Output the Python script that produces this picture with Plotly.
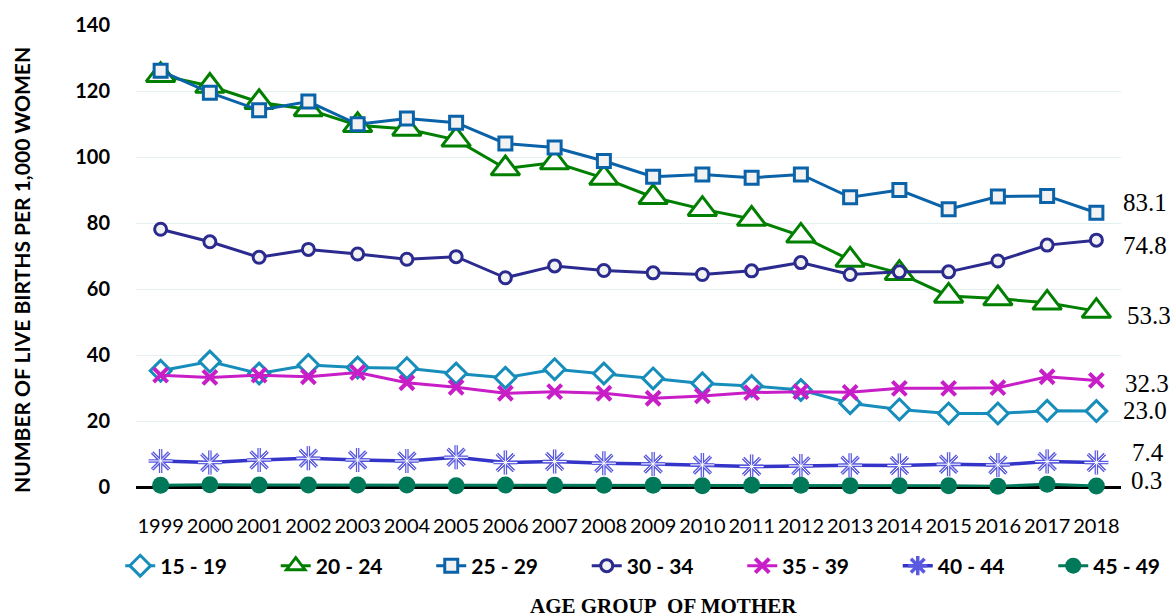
import plotly.graph_objects as go

years = [str(y) for y in range(1999, 2019)]

age_groups = ["15 - 19", "20 - 24", "25 - 29", "30 - 34", "35 - 39", "40 - 44", "45 - 49"]

rate_15_19 = [35.2, 38.0, 34.4, 37.0, 36.2, 36.0, 34.4, 33.1, 35.7, 34.4,
              32.9, 31.4, 30.6, 29.4, 25.4, 23.5, 22.3, 22.3, 23.1, 23.0]
rate_20_24 = [124.8, 121.5, 116.6, 114.4, 109.6, 108.5, 105.2, 96.5, 98.3, 93.6,
              87.8, 84.2, 81.2, 76.1, 68.8, 64.8, 57.9, 57.1, 55.8, 53.3]
rate_25_29 = [126.1, 119.5, 114.2, 116.8, 109.9, 111.7, 110.4, 104.1, 102.9, 98.8,
              94.0, 94.7, 93.7, 94.7, 87.8, 90.0, 84.2, 88.0, 88.2, 83.1]
rate_30_34 = [78.1, 74.3, 69.6, 72.0, 70.6, 69.0, 69.8, 63.4, 67.0, 65.6,
              64.9, 64.4, 65.5, 68.0, 64.4, 65.2, 65.2, 68.5, 73.3, 74.8]
rate_35_39 = [33.9, 33.2, 33.9, 33.4, 34.7, 31.6, 30.2, 28.4, 28.9, 28.4,
              26.9, 27.6, 28.6, 28.9, 28.7, 29.9, 29.9, 30.1, 33.4, 32.3]
rate_40_44 = [7.9, 7.4, 8.2, 8.7, 8.2, 7.9, 9.0, 7.4, 7.7, 7.2,
              7.0, 6.7, 6.2, 6.4, 6.6, 6.5, 6.9, 6.7, 7.7, 7.4]
rate_45_49 = [0.5, 0.7, 0.6, 0.6, 0.6, 0.6, 0.4, 0.6, 0.5, 0.5,
              0.5, 0.4, 0.5, 0.5, 0.4, 0.4, 0.4, 0.2, 0.8, 0.3]

series = [rate_15_19, rate_20_24, rate_25_29, rate_30_34, rate_35_39, rate_40_44, rate_45_49]

colors = ["#178DBB", "#007F00", "#0A62A8", "#2B2B8F", "#C81EC8", "#3434C8", "#00795A"]
styles = [
    dict(symbol="diamond", size=16, fill="#FFFFFF", lw=3),
    dict(symbol="triangle-up", size=25, fill="#FFFFFF", lw=3),
    dict(symbol="square", size=13, fill="#F2F2F2", lw=3),
    dict(symbol="circle", size=12, fill="#F2F2F2", lw=3),
    dict(symbol="x-thin", size=14, fill="#C81EC8", lw=4),
    dict(symbol="asterisk", size=20, fill="#5A5AE0", lw=3.5),
    dict(symbol="circle", size=17, fill="#00795A", lw=0),
]
label_shift = [(25, 1), (29, -4), (25, 10), (25, -5), (27, -3), (34, 10), (33, 6)]

fig = go.Figure()
for name, vals, col, st in zip(age_groups, series, colors, styles):
    if st["symbol"] in ("x-thin", "asterisk"):
        marker = dict(symbol=st["symbol"], size=st["size"],
                      line=dict(color=st["fill"], width=st["lw"]))
    else:
        marker = dict(symbol=st["symbol"], size=st["size"], color=st["fill"],
                      line=dict(color=col, width=st["lw"]))
    fig.add_trace(go.Scatter(x=years, y=vals, name=name, mode="lines+markers",
                             line=dict(color=col, width=3.5 if name == "40 - 44" else 3),
                             marker=marker, cliponaxis=False))
    if st["symbol"] == "asterisk":
        fig.add_trace(go.Scatter(x=years, y=vals, mode="markers", showlegend=False,
                                 hoverinfo="skip", cliponaxis=False,
                                 marker=dict(symbol="asterisk", size=st["size"],
                                             line=dict(color="#FFFFFF", width=1))))

annotations = []
last_idx = len(years) - 1
for vals, (xs, ys) in zip(series, label_shift):
    annotations.append(dict(x=last_idx, y=vals[-1], xref="x", yref="y",
                            text=f"{vals[-1]:.1f}", showarrow=False,
                            xanchor="left", yanchor="middle", xshift=xs, yshift=ys,
                            font=dict(family="Liberation Serif", size=25, color="black")))

annotations.append(dict(x=-0.1157, y=0.4697, xref="paper", yref="paper",
                        text="NUMBER OF LIVE BIRTHS PER 1,000 WOMEN", textangle=-90,
                        showarrow=False, xanchor="center", yanchor="middle",
                        font=dict(family="Lato", size=21, color="black", weight="bold")))
annotations.append(dict(x=0.5353, y=-0.227, xref="paper", yref="paper",
                        text="AGE GROUP&nbsp; OF MOTHER", showarrow=False,
                        xanchor="center", yanchor="top",
                        font=dict(family="Liberation Serif", size=21, color="black", weight="bold")))

fig.update_layout(
    width=1173, height=616,
    margin=dict(l=136, r=52, t=25, b=129, autoexpand=False),
    plot_bgcolor="white", paper_bgcolor="white",
    showlegend=True,
    legend=dict(orientation="h", x=-0.016, y=-0.171, xanchor="left", yanchor="middle",
                font=dict(family="Lato", size=21, color="black", weight="bold"),
                entrywidth=110.5, entrywidthmode="pixels", bgcolor="rgba(0,0,0,0)"),
    annotations=annotations,
)
fig.update_xaxes(type="category", categoryorder="array", categoryarray=years,
                 range=[-0.5, 19.5], showgrid=False, showline=False, zeroline=False,
                 ticks="outside", ticklen=21, tickcolor="rgba(0,0,0,0)", tickangle=0,
                 tickfont=dict(family="Lato", size=20, color="black"))
fig.update_yaxes(range=[0, 140], dtick=20, showgrid=True, gridcolor="#E4EFEF", gridwidth=1,
                 zeroline=True, zerolinecolor="black", zerolinewidth=2.5, showline=False,
                 ticks="outside", ticklen=21, tickcolor="rgba(0,0,0,0)",
                 tickfont=dict(family="Lato", size=20, color="black", weight="bold"))

fig.write_html("out.html", config={"displayModeBar": False},
               post_script="document.body.style.margin='0px';")
